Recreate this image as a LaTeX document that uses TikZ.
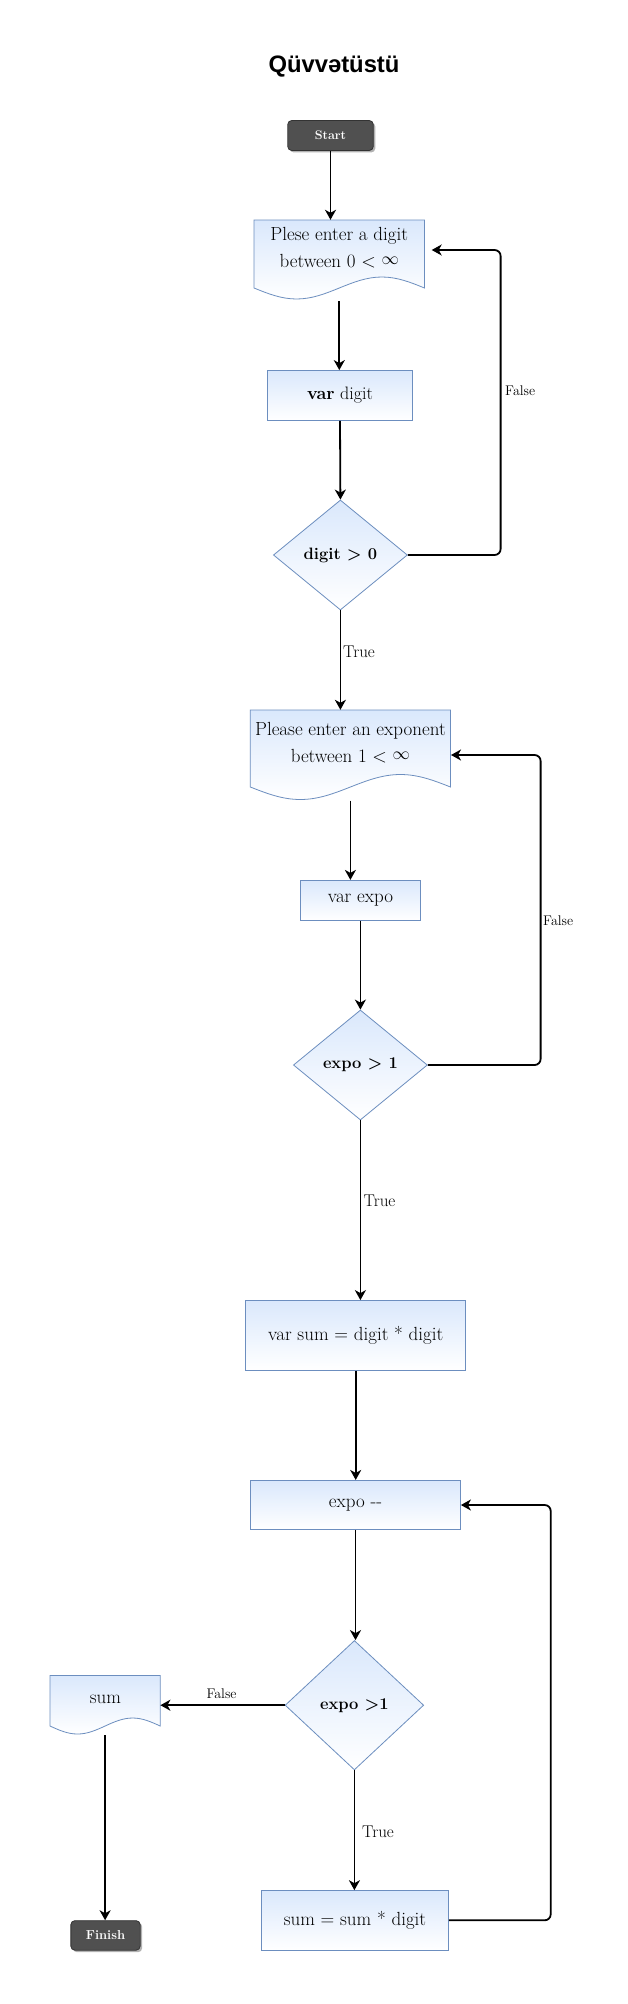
\documentclass[tikz,border=0pt]{standalone}
\usepackage{fontspec}
\newfontfamily\titlefont{Liberation Sans}
\usetikzlibrary{arrows.meta,shadows,shapes.geometric}
\definecolor{bfill}{HTML}{DAE8FC}
\definecolor{bline}{HTML}{6C8EBF}
\definecolor{termfill}{HTML}{505050}
\tikzset{
  txt/.style={font=\fontsize{19}{27}\selectfont, align=center, inner sep=0pt},
  procbox/.style={draw=bline, line width=0.8pt, top color=bfill, bottom color=white, minimum width=#1, txt},
  decbox/.style={diamond, draw=bline, line width=0.8pt, top color=bfill, bottom color=white, inner sep=0pt, txt, font=\fontsize{16.5}{20}\selectfont},
  docshape/.style={draw=bline, line width=0.8pt, top color=bfill, bottom color=white},
  term/.style={draw=black!80, fill=termfill, rounded corners=4pt, line width=0.8pt, text=white,
    font=\bfseries\fontsize{12.5}{14}\selectfont, inner sep=0pt,
    drop shadow={shadow xshift=2pt, shadow yshift=-2pt, fill=black, opacity=0.3}},
  conn/.style={line width=1.8pt, -{Stealth[length=10pt,width=11pt,inset=3pt]}, rounded corners=6pt},
  lbl/.style={font=\fontsize{14}{16}\selectfont, inner sep=0pt},
  tlbl/.style={font=\fontsize{17}{19}\selectfont, inner sep=0pt, anchor=west},
}
\begin{document}
\begin{tikzpicture}[x=1pt, y=-1pt]
\useasboundingbox[fill=white] (0,0) rectangle (628,2004);

% title
\node[font=\titlefont\bfseries\fontsize{23.8}{28}\selectfont, inner sep=0pt] (title) at (334,67) {Qüvvətüstü};

% Start
\node[term, minimum width=85.5pt, minimum height=30pt] (start) at (330.5,135.5) {Start};

% doc 1
\shade[docshape] (254,220) -- (424.5,220) -- (424.5,288) sin (381.9,277) cos (339.3,288) sin (296.6,299) cos (254,288) -- cycle;
\node[minimum width=170.5pt, minimum height=81pt, inner sep=0pt] (doc1) at (339.3,260.5) {};
\node[txt] (doc1t) at (339.3,248) {Plese enter a digit\\between 0 < \raisebox{3pt}{$\infty$}};

% var digit
\node[procbox=145pt, minimum height=50pt, font=\fontsize{18}{22}\selectfont] (vdigit) at (340,395.5) {\textbf{var} digit};

% diamond 1
\node[decbox, minimum width=134pt, minimum height=110pt] (dia1) at (340.4,555) {\textbf{digit > 0}};

% doc 2
\shade[docshape] (250.3,710) -- (450.5,710) -- (450.5,787) sin (400.45,774.5) cos (350.4,787) sin (300.35,799.5) cos (250.3,787) -- cycle;
\node[minimum width=200.2pt, minimum height=90.5pt, inner sep=0pt] (doc2) at (350.4,755.25) {};
\node[txt] (doc2t) at (350.4,742.5) {Please enter an exponent\\between 1 < \raisebox{3pt}{$\infty$}};

% var expo
\node[procbox=120pt, minimum height=40pt] (vexpo) at (360.4,900.3) {var expo};

% diamond 2
\node[decbox, minimum width=134pt, minimum height=110pt] (dia2) at (360.4,1065) {\textbf{expo > 1}};

% var sum
\node[procbox=220pt, minimum height=70pt] (vsum) at (355.7,1335.5) {var sum = digit * digit};

% expo --
\node[procbox=210pt, minimum height=49.3pt] (edec) at (355.5,1505) {expo -{}-};

% diamond 3
\node[decbox, minimum width=138.6pt, minimum height=129.4pt] (dia3) at (354.4,1705.2) {\textbf{expo >1}};

% sum doc
\shade[docshape] (50,1675.4) -- (160.2,1675.4) -- (160.2,1726) sin (132.65,1718) cos (105.1,1726) sin (77.55,1734) cos (50,1726) -- cycle;
\node[minimum width=110.2pt, minimum height=59.6pt, inner sep=0pt] (sdoc) at (105.1,1705.2) {};
\node[txt] (sdoct) at (105.5,1699) {sum};

% sum = sum * digit
\node[procbox=187pt, minimum height=59.4pt] (ssd) at (355,1920.3) {sum = sum * digit};

% Finish
\node[term, minimum width=69.3pt, minimum height=29.5pt, font=\bfseries\fontsize{13}{15}\selectfont] (finish) at (105.5,1935.4) {Finish};

% loop coordinates
\coordinate (in1) at (431.7,250);
\coordinate (in2) at (451,755);

% connectors
\draw[conn] (start.south) -- (start.south |- doc1.north);
\draw[conn] (doc1.south) -- (doc1.south |- vdigit.north);
\draw[conn] (vdigit.south) -- (dia1.north);
\draw[conn] (dia1.east) -- (500.6,555) -- (500.6,250) -- (in1);
\node[lbl, anchor=west] (f1) at (505,391) {False};
\draw[conn] (dia1.south) -- (dia1.south |- doc2.north);
\node[tlbl] (t1) at (343,652) {True};
\draw[conn] (doc2.south) -- (doc2.south |- vexpo.north);
\draw[conn] (vexpo.south) -- (dia2.north);
\draw[conn] (dia2.east) -- (540.6,1065) -- (540.6,755) -- (in2);
\node[lbl, anchor=west] (f2) at (543,921) {False};
\draw[conn] (dia2.south) -- (dia2.south |- vsum.north);
\node[tlbl] (t2) at (363.5,1201) {True};
\draw[conn] (vsum.south) -- (vsum.south |- edec.north);
\draw[conn] (edec.south) -- (edec.south |- dia3.north);
\draw[conn] (dia3.west) -- (dia3.west -| sdoc.east);
\node[lbl] (f3) at (221.5,1693.5) {False};
\draw[conn] (dia3.south) -- (dia3.south |- ssd.north);
\node[tlbl] (t3) at (362,1831.5) {True};
\draw[conn] (sdoc.south) -- (sdoc.south |- finish.north);
\draw[conn] (ssd.east) -- (550.7,1920.3) -- (550.7,1505) -- (edec.east);
\end{tikzpicture}
\end{document}
